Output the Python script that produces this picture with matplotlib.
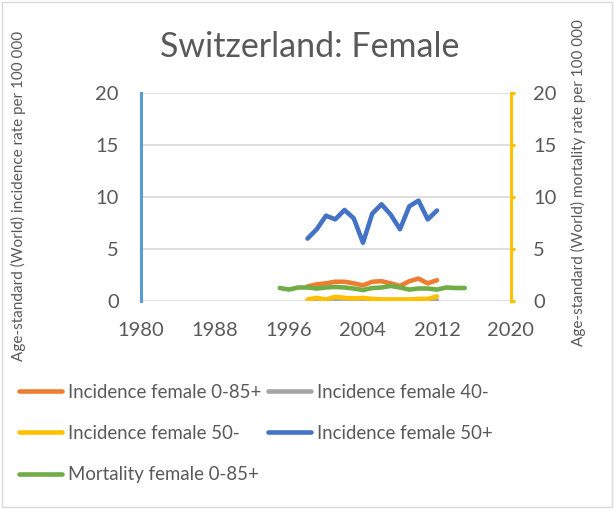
import matplotlib.pyplot as plt
from matplotlib.patches import Rectangle

# age-standardised rates per 100 000, Swiss women
years_inc = list(range(1998, 2013))
inc_all = [1.4, 1.6, 1.7, 1.85, 1.85, 1.7, 1.5, 1.85, 1.9, 1.7, 1.45, 1.9, 2.15, 1.7, 2.0]
inc_40 = [0.0, 0.05, 0.0, 0.05, 0.05, 0.05, 0.0, 0.05, 0.05, 0.0, 0.0, 0.05, 0.05, 0.0, 0.05]
inc_50m = [0.15, 0.3, 0.15, 0.4, 0.3, 0.25, 0.3, 0.2, 0.15, 0.15, 0.15, 0.15, 0.2, 0.2, 0.45]
inc_50p = [6.0, 6.9, 8.2, 7.85, 8.75, 7.95, 5.6, 8.4, 9.3, 8.3, 6.9, 9.1, 9.65, 7.85, 8.7]

years_mort = list(range(1995, 2016))
mort_all = [1.25, 1.1, 1.3, 1.3, 1.2, 1.3, 1.35, 1.3, 1.2, 1.05, 1.25, 1.3, 1.45, 1.3,
            1.1, 1.2, 1.2, 1.1, 1.3, 1.25, 1.25]

x_ticks = [1980, 1988, 1996, 2004, 2012, 2020]
y_ticks = [0, 5, 10, 15, 20]

grey_txt = '#595959'
plt.rcParams['font.family'] = ['Lato', 'DejaVu Sans']

fig = plt.figure(figsize=(6.14, 5.09), dpi=100)
fig.patches.append(Rectangle((0.003, 0.003), 0.994, 0.994, transform=fig.transFigure,
                             fill=False, edgecolor='#D9D9D9', linewidth=1))

ax = fig.add_axes([141 / 614, 1 - 301 / 509, 370 / 614, 208 / 509])
ax2 = ax.twinx()

lw = 3.3
l1, = ax.plot(years_inc, inc_all, color='#ED7D31', lw=lw, label='Incidence female 0-85+')
l2, = ax.plot(years_inc, inc_40, color='#A5A5A5', lw=lw, label='Incidence female 40-')
l3, = ax.plot(years_inc, inc_50m, color='#FFC000', lw=lw, label='Incidence female 50-')
l4, = ax.plot(years_inc, inc_50p, color='#4472C4', lw=lw, label='Incidence female 50+')
l5, = ax2.plot(years_mort, mort_all, color='#70AD47', lw=lw, label='Mortality female 0-85+')
for ln in (l1, l2, l3, l4, l5):
    ln.set_solid_capstyle('round')
    ln.set_solid_joinstyle('round')

for a in (ax, ax2):
    a.set_xlim(1980, 2020)
    a.set_ylim(0, 20)
    a.set_yticks(y_ticks)
    for s in a.spines.values():
        s.set_visible(False)

ax.set_xticks(x_ticks)
ax.grid(axis='y', color='#D9D9D9', lw=1.2)
ax.set_axisbelow(True)
ax.tick_params(axis='y', length=0, labelsize=14.5, labelcolor=grey_txt, pad=16)
ax.tick_params(axis='x', length=0, labelsize=14.5, labelcolor=grey_txt, pad=15)
ax.spines['left'].set_visible(True)
ax.spines['left'].set_color('#5B9BD5')
ax.spines['left'].set_linewidth(2.2)

ax2.spines['right'].set_visible(True)
ax2.spines['right'].set_color('#FFC000')
ax2.spines['right'].set_linewidth(2.2)
ax2.tick_params(axis='y', length=3, width=2.2, color='#FFC000', direction='out',
                labelsize=14.5, labelcolor=grey_txt, pad=13)

fig.text(0.505, 1 - 47 / 509, 'Switzerland: Female', ha='center', va='center',
         fontsize=24.5, color=grey_txt)
fig.text(18 / 614, 1 - 196 / 509, 'Age-standard (World) incidence rate per 100 000',
         rotation=90, ha='center', va='center', fontsize=11, color=grey_txt)
fig.text(578 / 614, 1 - 183 / 509, 'Age-standard (World) mortality rate per 100 000',
         rotation=90, ha='center', va='center', fontsize=11, color=grey_txt)

# fill the legend row by row: orange, grey / yellow, blue / green
fig.legend([l1, l3, l5, l2, l4], [h.get_label() for h in (l1, l3, l5, l2, l4)],
           ncol=2, loc='upper left', bbox_to_anchor=(2 / 614, 1 - 367 / 509),
           frameon=False, fontsize=13.4, handlelength=2.3, handletextpad=0.35,
           columnspacing=0.35, labelspacing=1.3, labelcolor=grey_txt)

fig.savefig('out.png', dpi=100)
